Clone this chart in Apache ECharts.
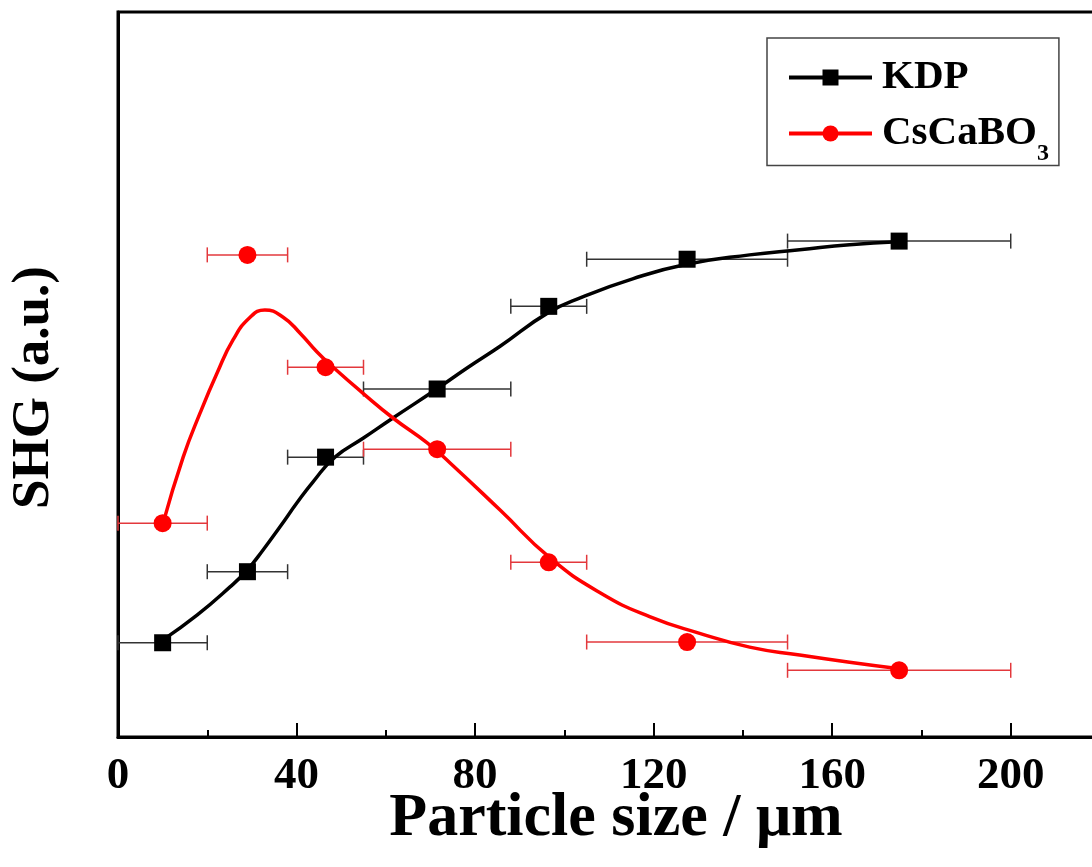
<!DOCTYPE html>
<html>
<head>
<meta charset="utf-8">
<script src="https://cdn.jsdelivr.net/npm/echarts@6/dist/echarts.min.js"></script>
<style>
  html, body { margin: 0; padding: 0; background: #fff; }
  #chart { width: 1092px; height: 867px; }
</style>
</head>
<body>
<div id="chart"></div>
<script>
// particle size ranges (um): bin centre and error-bar ends
const sizeMid = [10, 29, 46.5, 71.5, 96.5, 127.5, 175];
const sizeLow = [0, 20, 38, 55, 88, 105, 150];
const sizeHigh = [20, 38, 55, 88, 105, 150, 200];

// SHG intensity (a.u.)
const kdpShg = [13.0, 22.8, 38.6, 48.0, 59.4, 65.9, 68.4];
const cscaboShg = [29.5, 66.5, 51.0, 39.7, 24.1, 13.1, 9.2];

// fitted curves
const kdpFitX = [10.1, 17.7, 25.1, 28.9, 32.5, 36.3, 40.1, 43.7, 48.6, 54.9, 61.6, 71.4, 78.2, 85.6, 96.3, 104.1, 115.3, 127.4, 141.5, 152.7, 163.9, 174.7];
const kdpFitY = [13.4, 16.8, 20.7, 23.0, 25.8, 29.0, 32.3, 35.2, 38.6, 41.2, 44.0, 48.0, 50.9, 53.9, 58.5, 60.7, 63.2, 65.2, 66.5, 67.2, 67.9, 68.3];
const csFitX = [10.1, 14.6, 18.4, 22.2, 25.8, 29.6, 32.9, 37.0, 40.8, 44.6, 48.2, 54.9, 61.6, 69.2, 74.4, 85.6, 96.8, 108.0, 119.1, 130.3, 141.5, 152.7, 163.9, 175.1];
const csFitY = [29.5, 38.6, 44.7, 50.2, 54.8, 57.9, 58.9, 57.9, 55.7, 53.1, 51.0, 47.4, 44.0, 40.6, 37.8, 31.3, 24.7, 19.9, 16.6, 14.3, 12.4, 11.3, 10.3, 9.4];

const xTicksMajor = 40;
const xTicksMinor = 20;

const font = '"Liberation Serif", "Times New Roman", serif';
const zip = (a, b) => a.map((v, i) => [v, b[i]]);

const chart = echarts.init(document.getElementById('chart'));

function errBarSeries(name, ys, color) {
  return {
    name: name,
    type: 'custom',
    z: 1,
    data: sizeMid.map((x, i) => [x, ys[i], sizeLow[i], sizeHigh[i]]),
    renderItem: function (params, api) {
      const y = api.value(1);
      const a = api.coord([api.value(2), y]);
      const b = api.coord([api.value(3), y]);
      const cap = 7.5;
      const style = { stroke: color, lineWidth: 1.5 };
      return {
        type: 'group',
        children: [
          { type: 'line', shape: { x1: a[0], y1: a[1], x2: b[0], y2: b[1] }, style: style },
          { type: 'line', shape: { x1: a[0], y1: a[1] - cap, x2: a[0], y2: a[1] + cap }, style: style },
          { type: 'line', shape: { x1: b[0], y1: b[1] - cap, x2: b[0], y2: b[1] + cap }, style: style }
        ]
      };
    }
  };
}

const option = {
  animation: false,
  backgroundColor: '#fff',
  grid: {
    left: 118, top: 12, bottom: 130, width: 982,
    outerBoundsMode: 'none',
    show: true, borderColor: '#000', borderWidth: 3
  },
  legend: {
    data: ['KDP', 'CsCaBO3'],
    orient: 'vertical',
    left: 767, top: 38,
    padding: [19, 10, 0, 20],
    itemWidth: 83, itemHeight: 20, itemGap: 15,
    borderColor: '#444', borderWidth: 1.5,
    backgroundColor: '#fff',
    lineStyle: { width: 4 },
    formatter: function (name) {
      return name === 'CsCaBO3' ? '{m|CsCaBO}{s|3}' : '{m|' + name + '}';
    },
    textStyle: {
      rich: {
        m: { fontSize: 41, fontWeight: 'bold', fontFamily: font, color: '#000', padding: [0, 0, 0, 5] },
        s: { fontSize: 24, fontWeight: 'bold', fontFamily: font, color: '#000', padding: [40, 0, 0, 0] }
      }
    }
  },
  xAxis: [
    {
      type: 'value', position: 'bottom',
      min: 0, max: 220, interval: xTicksMajor,
      name: 'Particle size / \u03bcm',
      nameLocation: 'middle', nameGap: 51, nameMoveOverlap: false,
      nameTextStyle: { fontSize: 62, fontWeight: 'bold', fontFamily: font, color: '#000', padding: [0, 0, 0, 14] },
      axisLine: { lineStyle: { color: '#000', width: 3 } },
      axisTick: { inside: true, length: 14, lineStyle: { color: '#000', width: 2 } },
      axisLabel: { fontSize: 45, fontWeight: 'bold', fontFamily: font, color: '#000', margin: 17, showMaxLabel: false },
      splitLine: { show: false }
    },
    {
      type: 'value', position: 'bottom',
      min: 0, max: 220, interval: xTicksMinor,
      axisLine: { show: false },
      axisTick: { inside: true, length: 7, lineStyle: { color: '#000', width: 2 } },
      axisLabel: { show: false },
      splitLine: { show: false }
    }
  ],
  yAxis: {
    type: 'value', min: 0, max: 100,
    name: 'SHG (a.u.)',
    nameLocation: 'middle', nameGap: 57, nameMoveOverlap: false,
    nameTextStyle: { fontSize: 53, fontWeight: 'bold', fontFamily: font, color: '#000', padding: [0, 26, 0, 0] },
    axisLine: { show: true, lineStyle: { color: '#000', width: 3 } },
    axisTick: { show: false },
    axisLabel: { show: false },
    splitLine: { show: false }
  },
  series: [
    errBarSeries('KDP err', kdpShg, '#333'),
    errBarSeries('CsCaBO3 err', cscaboShg, '#e3383c'),
    {
      name: 'KDP', type: 'line', z: 2,
      data: zip(kdpFitX, kdpFitY),
      smooth: 0.5, symbol: 'rect', showSymbol: false,
      lineStyle: { color: '#000', width: 3.5 },
      itemStyle: { color: '#000' }
    },
    {
      name: 'CsCaBO3', type: 'line', z: 2,
      data: zip(csFitX, csFitY),
      smooth: 0.5, symbol: 'circle', showSymbol: false,
      lineStyle: { color: '#ff0000', width: 3.5 },
      itemStyle: { color: '#ff0000' }
    },
    {
      name: 'KDP data', type: 'scatter', z: 3,
      data: zip(sizeMid, kdpShg),
      symbol: 'rect', symbolSize: 17,
      itemStyle: { color: '#000', opacity: 1 }
    },
    {
      name: 'CsCaBO3 data', type: 'scatter', z: 3,
      data: zip(sizeMid, cscaboShg),
      symbol: 'circle', symbolSize: 18,
      itemStyle: { color: '#ff0000', opacity: 1 }
    }
  ]
};

chart.setOption(option);
</script>
</body>
</html>
